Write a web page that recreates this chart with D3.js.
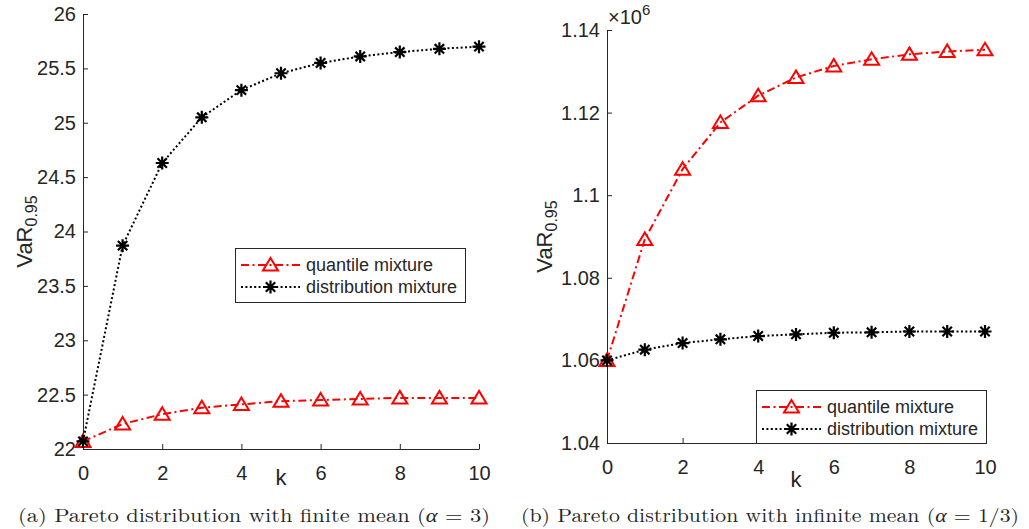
<!DOCTYPE html>
<html>
<head>
<meta charset="utf-8">
<script src="https://cdn.jsdelivr.net/npm/d3@7"></script>
<style>
  body { margin: 0; background: #fff; }
  svg { display: block; }
  text { font-family: "Liberation Sans", Arial, Helvetica, sans-serif; fill: #262626; }
</style>
</head>
<body>
<svg id="chart" width="1029" height="529"></svg>
<script>
// ---------- data ----------
const kValues = [0, 1, 2, 3, 4, 5, 6, 7, 8, 9, 10];
const xTicks = [0, 2, 4, 6, 8, 10];
const seriesNames = ["quantile mixture", "distribution mixture"];

// Panel (a): Pareto, alpha = 3
const quantileA = [22.07, 22.23, 22.32, 22.38, 22.41, 22.44, 22.45, 22.46, 22.47, 22.47, 22.47];
const distributionA = [22.07, 23.87, 24.63, 25.05, 25.30, 25.455, 25.55, 25.61, 25.65, 25.68, 25.70];
const yTicksA = [22, 22.5, 23, 23.5, 24, 24.5, 25, 25.5, 26];
const yTickLabelsA = ["22", "22.5", "23", "23.5", "24", "24.5", "25", "25.5", "26"];

// Panel (b): Pareto, alpha = 1/3 (values in units of 10^6)
const quantileB = [1.0600, 1.0893, 1.1063, 1.1176, 1.1241, 1.1285, 1.1313, 1.1329, 1.1341, 1.1348, 1.1352];
const distributionB = [1.0600, 1.0626, 1.0642, 1.0651, 1.0659, 1.0663, 1.0667, 1.0668, 1.0670, 1.0670, 1.0670];
const yTicksB = [1.04, 1.06, 1.08, 1.10, 1.12, 1.14];
const yTickLabelsB = ["1.04", "1.06", "1.08", "1.1", "1.12", "1.14"];

const captionA = ["(a) Pareto distribution with finite mean (", "α", " = 3)"];
const captionB = ["(b) Pareto distribution with infinite mean (", "α", " = 1/3)"];

// ---------- layout ----------
const svg = d3.select("#chart");
const AXIS = "#262626";

const panels = [
  {
    x0: 83, x1: 479, yTop: 14, yBot: 449, yDomain: [22, 26],
    q: quantileA, d: distributionA, yTicks: yTicksA, yLabels: yTickLabelsA,
    yLabelX: 24, kLabelDy: 36, exponent: false,
    legend: { x: 235, y: 248, w: 230, h: 54 },
    caption: captionA, capX: 18, capW: 472
  },
  {
    x0: 607, x1: 985, yTop: 30, yBot: 443, yDomain: [1.04, 1.14],
    q: quantileB, d: distributionB, yTicks: yTicksB, yLabels: yTickLabelsB,
    yLabelX: 544, kLabelDy: 44, exponent: true,
    legend: { x: 756, y: 390, w: 230, h: 53 },
    caption: captionB, capX: 521, capW: 498
  }
];

function trianglePath(cx, cy) {
  return `M${cx},${cy - 7}L${cx + 7.5},${cy + 5.5}L${cx - 7.5},${cy + 5.5}Z`;
}
function drawTriangle(g, cx, cy) {
  g.append("path").attr("d", trianglePath(cx, cy))
    .attr("fill", "none").attr("stroke", "#ff0000").attr("stroke-width", 2)
    .attr("stroke-linejoin", "miter");
}
function drawAsterisk(g, cx, cy) {
  const r = 6.5, rd = 4.7;
  const p = `M${cx - r},${cy}H${cx + r}M${cx},${cy - r}V${cy + r}` +
            `M${cx - rd},${cy - rd}L${cx + rd},${cy + rd}M${cx - rd},${cy + rd}L${cx + rd},${cy - rd}`;
  g.append("path").attr("d", p).attr("stroke", "#000").attr("stroke-width", 2.2).attr("fill", "none");
}

const QDASH = "8,3.5,2,3.5";
const DDOT = "2,2.4";

panels.forEach(p => {
  const x = d3.scaleLinear().domain([0, 10]).range([p.x0, p.x1]);
  const y = d3.scaleLinear().domain(p.yDomain).range([p.yBot, p.yTop]);
  const g = svg.append("g");

  // axes
  const xAxis = d3.axisBottom(x).tickValues(xTicks).tickFormat(d3.format("d"))
    .tickSizeInner(-5).tickSizeOuter(0).tickPadding(17);
  const gx = g.append("g").attr("transform", `translate(0,${p.yBot})`).call(xAxis);
  const yAxis = d3.axisLeft(y).tickValues(p.yTicks).tickFormat((d, i) => p.yLabels[i])
    .tickSizeInner(-5).tickSizeOuter(0).tickPadding(7);
  const gy = g.append("g").attr("transform", `translate(${p.x0},0)`).call(yAxis);
  [gx, gy].forEach(a => {
    a.selectAll("path.domain").attr("stroke", AXIS).attr("stroke-width", 1);
    a.selectAll(".tick line").attr("stroke", AXIS).attr("stroke-width", 1);
    a.selectAll(".tick text").attr("font-size", 20).attr("fill", AXIS)
      .style("font-family", '"Liberation Sans", Arial, sans-serif');
  });

  // axis labels
  g.append("text").attr("x", (p.x0 + p.x1) / 2).attr("y", p.yBot + p.kLabelDy)
    .attr("text-anchor", "middle").attr("font-size", 22).text("k");
  const yl = g.append("text")
    .attr("transform", `translate(${p.yLabelX},${(p.yTop + p.yBot) / 2}) rotate(-90)`)
    .attr("text-anchor", "middle").attr("dy", "0.35em").attr("font-size", 22);
  yl.append("tspan").text("VaR");
  yl.append("tspan").attr("font-size", 16).attr("dy", "0.3em").text("0.95");

  if (p.exponent) {
    const e = g.append("text").attr("x", p.x0 + 1).attr("y", p.yTop - 6).attr("font-size", 20);
    e.append("tspan").text("×10");
    e.append("tspan").attr("font-size", 15).attr("dy", -9).text("6");
  }

  const line = d3.line().x((d, i) => x(kValues[i])).y(d => y(d));

  // quantile mixture
  g.append("path").datum(p.q).attr("d", line).attr("fill", "none")
    .attr("stroke", "#ff0000").attr("stroke-width", 2).attr("stroke-dasharray", QDASH);
  p.q.forEach((v, i) => drawTriangle(g, x(kValues[i]), y(v)));

  // distribution mixture
  g.append("path").datum(p.d).attr("d", line).attr("fill", "none")
    .attr("stroke", "#000").attr("stroke-width", 2).attr("stroke-dasharray", DDOT);
  p.d.forEach((v, i) => drawAsterisk(g, x(kValues[i]), y(v)));

  // legend
  const L = p.legend;
  const lg = g.append("g");
  lg.append("rect").attr("x", L.x + 0.5).attr("y", L.y + 0.5).attr("width", L.w).attr("height", L.h)
    .attr("fill", "#fff").attr("stroke", AXIS).attr("stroke-width", 1);
  const rows = [L.y + 17, L.y + 39];
  const lx0 = L.x + 6, lx1 = L.x + 65, lmid = (lx0 + lx1) / 2;
  lg.append("line").attr("x1", lx0).attr("x2", lx1).attr("y1", rows[0]).attr("y2", rows[0])
    .attr("stroke", "#ff0000").attr("stroke-width", 2).attr("stroke-dasharray", QDASH);
  drawTriangle(lg, lmid, rows[0]);
  lg.append("line").attr("x1", lx0).attr("x2", lx1).attr("y1", rows[1]).attr("y2", rows[1])
    .attr("stroke", "#000").attr("stroke-width", 2).attr("stroke-dasharray", DDOT);
  drawAsterisk(lg, lmid, rows[1]);
  seriesNames.forEach((n, i) => {
    lg.append("text").attr("x", L.x + 71).attr("y", rows[i]).attr("dy", "0.35em")
      .attr("font-size", 18).attr("fill", "#000").text(n);
  });

  // caption
  const c = svg.append("text").attr("x", p.capX).attr("y", 522)
    .attr("font-size", 19).attr("textLength", p.capW).attr("lengthAdjust", "spacingAndGlyphs")
    .style("font-family", '"Latin Modern Roman", "CMU Serif", "Liberation Serif", "DejaVu Serif", serif')
    .attr("fill", "#000");
  c.append("tspan").text(p.caption[0]);
  c.append("tspan").attr("font-style", "italic").text(p.caption[1]);
  c.append("tspan").text(p.caption[2]);
});
</script>
</body>
</html>
